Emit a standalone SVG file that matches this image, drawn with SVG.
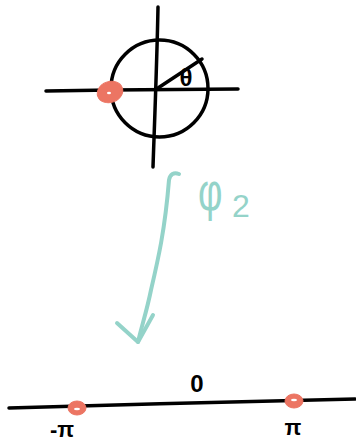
<svg xmlns="http://www.w3.org/2000/svg" width="356" height="444" viewBox="0 0 356 444">
<style>
.ink{fill:none;stroke:#000;stroke-width:3.5;stroke-linecap:round;stroke-linejoin:round}
.teal{fill:none;stroke:#94d3c9;stroke-width:4;stroke-linecap:round;stroke-linejoin:round}
.dot{fill:#ec7563;stroke:#ec7563;stroke-width:1}
.hole{fill:#fff}
.t{font-family:"Liberation Sans",Arial,sans-serif;fill:#000}
.tt{font-family:"Liberation Sans",Arial,sans-serif;fill:#94d3c9}
</style>
<rect width="356" height="444" fill="#fff"/>
<g id="circle-figure">
<path class="ink" d="M158 7 C157 60 155 110 153 167"/>
<path class="ink" d="M46 91 C110 90 180 89 238 89"/>
<circle class="ink" cx="159.5" cy="88.5" r="48.5"/>
<path class="ink" d="M158 88 L202 59"/>
<text class="t" x="186" y="86" font-size="24" font-weight="bold" text-anchor="middle">θ</text>
<g id="point-circle">
<ellipse class="dot" cx="110" cy="92" rx="13" ry="10.5" transform="rotate(-20 110 92)"/>
<ellipse class="hole" cx="109" cy="93" rx="2" ry="1.2"/>
</g>
</g>
<g id="connectors">
<path class="teal" d="M179 174 C174 172 170 174 169 180 C165 230 158 260 151 290 C147 310 142 325 138 342"/>
<path class="teal" d="M117 323 L138 342 L153 315"/>
</g>
<g id="label-phi2">
<text class="tt" font-size="54" transform="translate(198 210) scale(0.7 1)">φ</text>
<text class="tt" x="232" y="217" font-size="32">2</text>
</g>
<g id="line-figure">
<path class="ink" d="M9 408 C120 405 250 401 355 399"/>
<g id="point-left">
<ellipse class="dot" cx="77" cy="408" rx="9" ry="7"/>
<ellipse class="hole" cx="77" cy="409" rx="3" ry="1.2"/>
</g>
<g id="point-right">
<ellipse class="dot" cx="294" cy="401" rx="9" ry="7"/>
<ellipse class="hole" cx="294" cy="400" rx="3" ry="1.2"/>
</g>
<text class="t" x="197" y="392" font-size="24" font-weight="bold" text-anchor="middle">0</text>
<text class="t" x="62" y="437" font-size="22" font-weight="bold" text-anchor="middle">-π</text>
<text class="t" x="293" y="435" font-size="22" font-weight="bold" text-anchor="middle">π</text>
</g>
</svg>
